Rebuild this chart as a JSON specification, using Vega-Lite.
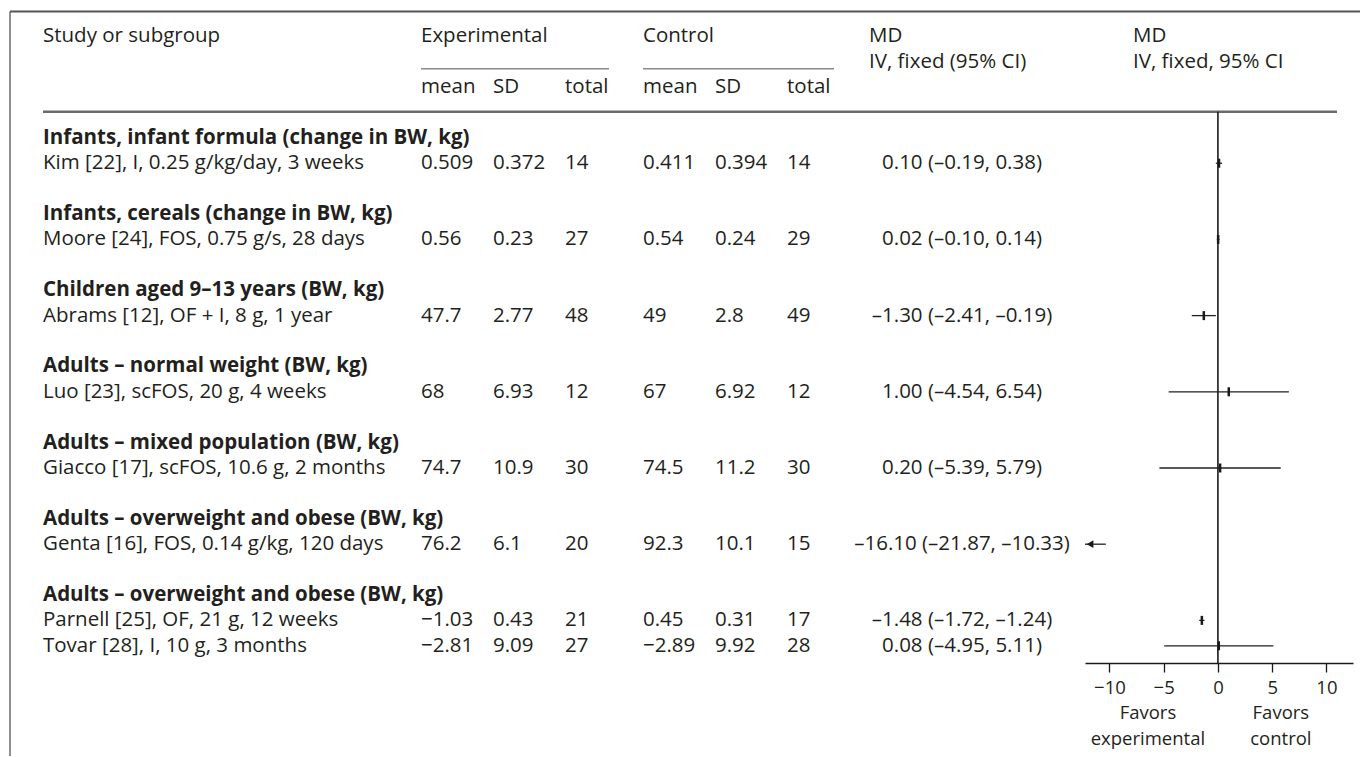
{
  "$schema": "https://vega.github.io/schema/vega-lite/v6.json",
  "width": 1360,
  "height": 757,
  "autosize": {"type": "fit", "contains": "padding"},
  "padding": 0,
  "background": "white",
  "config": {"view": {"stroke": null}, "font": "Open Sans", "text": {"font": "Open Sans", "fontSize": 20.5, "color": "#231f20"}},
  "datasets": {
    "studies": [
      {"study": "Kim [22], I, 0.25 g/kg/day, 3 weeks", "line": 1, "exp_mean": 0.509, "exp_sd": 0.372, "exp_n": 14, "ctl_mean": 0.411, "ctl_sd": 0.394, "ctl_n": 14, "md": 0.10, "lo": -0.19, "hi": 0.38, "md_label": "0.10 (–0.19, 0.38)"},
      {"study": "Moore [24], FOS, 0.75 g/s, 28 days", "line": 4, "exp_mean": 0.56, "exp_sd": 0.23, "exp_n": 27, "ctl_mean": 0.54, "ctl_sd": 0.24, "ctl_n": 29, "md": 0.02, "lo": -0.10, "hi": 0.14, "md_label": "0.02 (–0.10, 0.14)"},
      {"study": "Abrams [12], OF + I, 8 g, 1 year", "line": 7, "exp_mean": 47.7, "exp_sd": 2.77, "exp_n": 48, "ctl_mean": 49, "ctl_sd": 2.8, "ctl_n": 49, "md": -1.30, "lo": -2.41, "hi": -0.19, "md_label": "–1.30 (–2.41, –0.19)"},
      {"study": "Luo [23], scFOS, 20 g, 4 weeks", "line": 10, "exp_mean": 68, "exp_sd": 6.93, "exp_n": 12, "ctl_mean": 67, "ctl_sd": 6.92, "ctl_n": 12, "md": 1.00, "lo": -4.54, "hi": 6.54, "md_label": "1.00 (–4.54, 6.54)"},
      {"study": "Giacco [17], scFOS, 10.6 g, 2 months", "line": 13, "exp_mean": 74.7, "exp_sd": 10.9, "exp_n": 30, "ctl_mean": 74.5, "ctl_sd": 11.2, "ctl_n": 30, "md": 0.20, "lo": -5.39, "hi": 5.79, "md_label": "0.20 (–5.39, 5.79)"},
      {"study": "Genta [16], FOS, 0.14 g/kg, 120 days", "line": 16, "exp_mean": 76.2, "exp_sd": 6.1, "exp_n": 20, "ctl_mean": 92.3, "ctl_sd": 10.1, "ctl_n": 15, "md": -16.10, "lo": -21.87, "hi": -10.33, "md_label": "–16.10 (–21.87, –10.33)"},
      {"study": "Parnell [25], OF, 21 g, 12 weeks", "line": 19, "exp_mean": -1.03, "exp_sd": 0.43, "exp_n": 21, "ctl_mean": 0.45, "ctl_sd": 0.31, "ctl_n": 17, "md": -1.48, "lo": -1.72, "hi": -1.24, "md_label": "–1.48 (–1.72, –1.24)"},
      {"study": "Tovar [28], I, 10 g, 3 months", "line": 20, "exp_mean": -2.81, "exp_sd": 9.09, "exp_n": 27, "ctl_mean": -2.89, "ctl_sd": 9.92, "ctl_n": 28, "md": 0.08, "lo": -4.95, "hi": 5.11, "md_label": "0.08 (–4.95, 5.11)"}
    ],
    "groups": [
      {"group": "Infants, infant formula (change in BW, kg)", "line": 0},
      {"group": "Infants, cereals (change in BW, kg)", "line": 3},
      {"group": "Children aged 9–13 years (BW, kg)", "line": 6},
      {"group": "Adults – normal weight (BW, kg)", "line": 9},
      {"group": "Adults – mixed population (BW, kg)", "line": 12},
      {"group": "Adults – overweight and obese (BW, kg)", "line": 15},
      {"group": "Adults – overweight and obese (BW, kg)", "line": 18}
    ],
    "header": [
      {"label": "Study or subgroup", "col": 1, "line": -4},
      {"label": "Experimental", "col": 2, "line": -4},
      {"label": "Control", "col": 6, "line": -4},
      {"label": "MD", "col": 10, "line": -4},
      {"label": "IV, fixed (95% CI)", "col": 10, "line": -3},
      {"label": "MD", "col": 12, "line": -4},
      {"label": "IV, fixed, 95% CI", "col": 12, "line": -3},
      {"label": "mean", "col": 2, "line": -2},
      {"label": "SD", "col": 3, "line": -2},
      {"label": "total", "col": 4, "line": -2},
      {"label": "mean", "col": 6, "line": -2},
      {"label": "SD", "col": 7, "line": -2},
      {"label": "total", "col": 8, "line": -2}
    ],
    "favors": [
      {"first": "Favors", "second": "experimental", "side": -6.45},
      {"first": "Favors", "second": "control", "side": 5.8}
    ]
  },
  "resolve": {"scale": {"x": "independent"}},
  "layer": [
    {
      "layer": [
        {
          "data": {"values": [{}]},
          "mark": {"type": "rule", "stroke": "#6a6a6a", "strokeWidth": 1.5},
          "encoding": {
            "x": {"datum": 0, "type": "quantitative", "axis": null, "scale": {"type": "linear", "domain": [0,1,2,3,4,5,6,7,8,9,10,11,12,13,14], "range": [10,43,421,493,565,609,643,715,787,834,869,962,1133,1337,1360], "nice": false, "zero": false}},
            "y": {"datum": -4.97, "type": "quantitative", "axis": null, "scale": {"domain": [-5.427, 24.34], "reverse": true, "nice": false, "zero": false}},
            "y2": {"datum": 24.34}
          }
        },
        {
          "data": {"values": [{}]},
          "mark": {"type": "rule", "stroke": "#555555", "strokeWidth": 2},
          "encoding": {
            "x": {"datum": 0, "type": "quantitative", "axis": null, "scale": {"type": "linear", "domain": [0,1,2,3,4,5,6,7,8,9,10,11,12,13,14], "range": [10,43,421,493,565,609,643,715,787,834,869,962,1133,1337,1360], "nice": false, "zero": false}},
            "x2": {"datum": 14},
            "y": {"datum": -4.97, "type": "quantitative", "axis": null, "scale": {"domain": [-5.427, 24.34], "reverse": true, "nice": false, "zero": false}}
          }
        },
        {
          "data": {"values": [{}]},
          "mark": {"type": "rule", "stroke": "#6a6a6a", "strokeWidth": 2.5},
          "encoding": {
            "x": {"datum": 1, "type": "quantitative", "axis": null, "scale": {"type": "linear", "domain": [0,1,2,3,4,5,6,7,8,9,10,11,12,13,14], "range": [10,43,421,493,565,609,643,715,787,834,869,962,1133,1337,1360], "nice": false, "zero": false}},
            "x2": {"datum": 13},
            "y": {"datum": -1.03, "type": "quantitative", "axis": null, "scale": {"domain": [-5.427, 24.34], "reverse": true, "nice": false, "zero": false}}
          }
        },
        {
          "data": {"values": [{"from": 2, "to": 5}, {"from": 6, "to": 9}]},
          "mark": {"type": "rule", "stroke": "#8a8a8a", "strokeWidth": 1.6},
          "encoding": {
            "x": {"field": "from", "type": "quantitative", "axis": null, "scale": {"type": "linear", "domain": [0,1,2,3,4,5,6,7,8,9,10,11,12,13,14], "range": [10,43,421,493,565,609,643,715,787,834,869,962,1133,1337,1360], "nice": false, "zero": false}},
            "x2": {"field": "to"},
            "y": {"datum": -2.72, "type": "quantitative", "axis": null, "scale": {"domain": [-5.427, 24.34], "reverse": true, "nice": false, "zero": false}}
          }
        },
        {
          "data": {"name": "header"},
          "mark": {"type": "text", "align": "left", "baseline": "middle"},
          "encoding": {
            "x": {"field": "col", "type": "quantitative", "axis": null, "scale": {"type": "linear", "domain": [0,1,2,3,4,5,6,7,8,9,10,11,12,13,14], "range": [10,43,421,493,565,609,643,715,787,834,869,962,1133,1337,1360], "nice": false, "zero": false}},
            "y": {"field": "line", "type": "quantitative", "axis": null, "scale": {"domain": [-5.427, 24.34], "reverse": true, "nice": false, "zero": false}},
            "text": {"field": "label"}
          }
        },
        {
          "data": {"name": "groups"},
          "mark": {"type": "text", "align": "left", "baseline": "middle", "fontWeight": "bold"},
          "encoding": {
            "x": {"datum": 1, "type": "quantitative", "axis": null, "scale": {"type": "linear", "domain": [0,1,2,3,4,5,6,7,8,9,10,11,12,13,14], "range": [10,43,421,493,565,609,643,715,787,834,869,962,1133,1337,1360], "nice": false, "zero": false}},
            "y": {"field": "line", "type": "quantitative", "axis": null, "scale": {"domain": [-5.427, 24.34], "reverse": true, "nice": false, "zero": false}},
            "text": {"field": "group"}
          }
        },
        {
          "data": {"name": "studies"},
          "layer": [
            {"mark": {"type": "text", "align": "left", "baseline": "middle"}, "encoding": {"x": {"datum": 1, "type": "quantitative", "axis": null, "scale": {"type": "linear", "domain": [0,1,2,3,4,5,6,7,8,9,10,11,12,13,14], "range": [10,43,421,493,565,609,643,715,787,834,869,962,1133,1337,1360], "nice": false, "zero": false}}, "text": {"field": "study"}}},
            {"mark": {"type": "text", "align": "left", "baseline": "middle"}, "encoding": {"x": {"datum": 2, "type": "quantitative"}, "text": {"field": "exp_mean", "type": "quantitative", "format": "~g"}}},
            {"mark": {"type": "text", "align": "left", "baseline": "middle"}, "encoding": {"x": {"datum": 3, "type": "quantitative"}, "text": {"field": "exp_sd", "type": "quantitative", "format": "~g"}}},
            {"mark": {"type": "text", "align": "left", "baseline": "middle"}, "encoding": {"x": {"datum": 4, "type": "quantitative"}, "text": {"field": "exp_n", "type": "quantitative", "format": "~g"}}},
            {"mark": {"type": "text", "align": "left", "baseline": "middle"}, "encoding": {"x": {"datum": 6, "type": "quantitative"}, "text": {"field": "ctl_mean", "type": "quantitative", "format": "~g"}}},
            {"mark": {"type": "text", "align": "left", "baseline": "middle"}, "encoding": {"x": {"datum": 7, "type": "quantitative"}, "text": {"field": "ctl_sd", "type": "quantitative", "format": "~g"}}},
            {"mark": {"type": "text", "align": "left", "baseline": "middle"}, "encoding": {"x": {"datum": 8, "type": "quantitative"}, "text": {"field": "ctl_n", "type": "quantitative", "format": "~g"}}},
            {"mark": {"type": "text", "align": "center", "baseline": "middle"}, "encoding": {"x": {"datum": 11, "type": "quantitative"}, "text": {"field": "md_label"}}}
          ],
          "encoding": {
            "y": {"field": "line", "type": "quantitative", "axis": null, "scale": {"domain": [-5.427, 24.34], "reverse": true, "nice": false, "zero": false}}
          }
        }
      ]
    },
    {
      "layer": [
        {
          "data": {"values": [{}]},
          "mark": {"type": "rule", "stroke": "#1a1a1a", "strokeWidth": 1.6},
          "encoding": {
            "x": {"datum": 0, "type": "quantitative", "scale": {"domain": [-12.25, 12.45], "range": [1085, 1353], "clamp": true, "nice": false, "zero": false}, "axis": {"orient": "bottom", "offset": -93, "values": [-10, -5, 0, 5, 10], "format": "d", "tickSize": 9, "tickWidth": 1.3, "tickColor": "#1a1a1a", "domainColor": "#1a1a1a", "domainWidth": 1.5, "labelFont": "Open Sans", "labelFontSize": 18.5, "labelColor": "#231f20", "labelPadding": 6, "grid": false, "title": null}},
            "y": {"datum": -1.03, "type": "quantitative", "axis": null, "scale": {"domain": [-5.427, 24.34], "reverse": true, "nice": false, "zero": false}},
            "y2": {"datum": 20.68}
          }
        },
        {
          "data": {"name": "studies"},
          "mark": {"type": "rule", "stroke": "#231f20", "strokeWidth": 1.3},
          "encoding": {
            "x": {"field": "lo", "type": "quantitative", "scale": {"domain": [-12.25, 12.45], "range": [1085, 1353], "clamp": true, "nice": false, "zero": false}, "axis": {"orient": "bottom", "offset": -93, "values": [-10, -5, 0, 5, 10], "format": "d", "tickSize": 9, "tickWidth": 1.3, "tickColor": "#1a1a1a", "domainColor": "#1a1a1a", "domainWidth": 1.5, "labelFont": "Open Sans", "labelFontSize": 18.5, "labelColor": "#231f20", "labelPadding": 6, "grid": false, "title": null}},
            "x2": {"field": "hi"},
            "y": {"field": "line", "type": "quantitative", "axis": null, "scale": {"domain": [-5.427, 24.34], "reverse": true, "nice": false, "zero": false}}
          }
        },
        {
          "data": {"name": "studies"},
          "transform": [{"filter": "datum.md >= -12.25"}],
          "mark": {"type": "tick", "orient": "vertical", "color": "#1a1a1a", "size": 9, "thickness": 2.5, "opacity": 1},
          "encoding": {
            "x": {"field": "md", "type": "quantitative", "scale": {"domain": [-12.25, 12.45], "range": [1085, 1353], "clamp": true, "nice": false, "zero": false}, "axis": {"orient": "bottom", "offset": -93, "values": [-10, -5, 0, 5, 10], "format": "d", "tickSize": 9, "tickWidth": 1.3, "tickColor": "#1a1a1a", "domainColor": "#1a1a1a", "domainWidth": 1.5, "labelFont": "Open Sans", "labelFontSize": 18.5, "labelColor": "#231f20", "labelPadding": 6, "grid": false, "title": null}},
            "y": {"field": "line", "type": "quantitative", "axis": null, "scale": {"domain": [-5.427, 24.34], "reverse": true, "nice": false, "zero": false}}
          }
        },
        {
          "data": {"name": "studies"},
          "transform": [{"filter": "datum.lo < -12.25"}],
          "mark": {"type": "point", "shape": "triangle-left", "filled": true, "color": "#1a1a1a", "size": 60, "opacity": 1},
          "encoding": {
            "x": {"field": "lo", "type": "quantitative", "scale": {"domain": [-12.25, 12.45], "range": [1085, 1353], "clamp": true, "nice": false, "zero": false}, "axis": {"orient": "bottom", "offset": -93, "values": [-10, -5, 0, 5, 10], "format": "d", "tickSize": 9, "tickWidth": 1.3, "tickColor": "#1a1a1a", "domainColor": "#1a1a1a", "domainWidth": 1.5, "labelFont": "Open Sans", "labelFontSize": 18.5, "labelColor": "#231f20", "labelPadding": 6, "grid": false, "title": null}},
            "xOffset": {"value": 5},
            "y": {"field": "line", "type": "quantitative", "axis": null, "scale": {"domain": [-5.427, 24.34], "reverse": true, "nice": false, "zero": false}}
          }
        },
        {
          "data": {"name": "favors"},
          "mark": {"type": "text", "align": "center", "baseline": "middle", "fontSize": 18.5},
          "encoding": {
            "x": {"field": "side", "type": "quantitative", "scale": {"domain": [-12.25, 12.45], "range": [1085, 1353], "clamp": true, "nice": false, "zero": false}, "axis": {"orient": "bottom", "offset": -93, "values": [-10, -5, 0, 5, 10], "format": "d", "tickSize": 9, "tickWidth": 1.3, "tickColor": "#1a1a1a", "domainColor": "#1a1a1a", "domainWidth": 1.5, "labelFont": "Open Sans", "labelFontSize": 18.5, "labelColor": "#231f20", "labelPadding": 6, "grid": false, "title": null}},
            "y": {"datum": 22.66, "type": "quantitative", "axis": null, "scale": {"domain": [-5.427, 24.34], "reverse": true, "nice": false, "zero": false}},
            "text": {"field": "first"}
          }
        },
        {
          "data": {"name": "favors"},
          "mark": {"type": "text", "align": "center", "baseline": "middle", "fontSize": 18.5},
          "encoding": {
            "x": {"field": "side", "type": "quantitative", "scale": {"domain": [-12.25, 12.45], "range": [1085, 1353], "clamp": true, "nice": false, "zero": false}, "axis": {"orient": "bottom", "offset": -93, "values": [-10, -5, 0, 5, 10], "format": "d", "tickSize": 9, "tickWidth": 1.3, "tickColor": "#1a1a1a", "domainColor": "#1a1a1a", "domainWidth": 1.5, "labelFont": "Open Sans", "labelFontSize": 18.5, "labelColor": "#231f20", "labelPadding": 6, "grid": false, "title": null}},
            "y": {"datum": 23.66, "type": "quantitative", "axis": null, "scale": {"domain": [-5.427, 24.34], "reverse": true, "nice": false, "zero": false}},
            "text": {"field": "second"}
          }
        }
      ]
    }
  ]
}
